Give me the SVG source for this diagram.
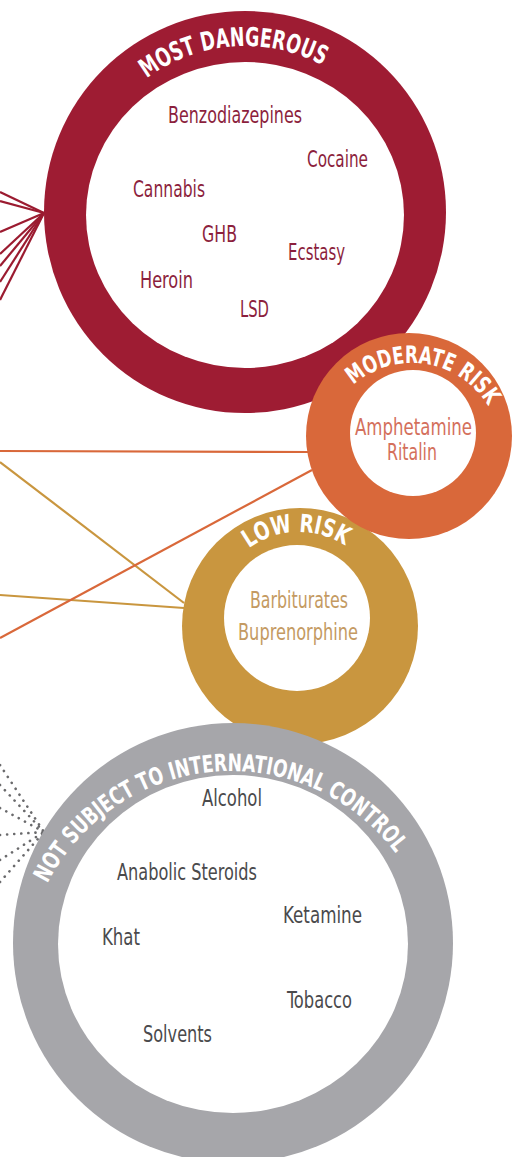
<svg xmlns="http://www.w3.org/2000/svg" xmlns:xlink="http://www.w3.org/1999/xlink" width="513" height="1157" viewBox="0 0 513 1157">
<style>
.t{font-family:"Liberation Sans Narrow","DejaVu Sans Condensed","Liberation Sans",sans-serif;font-size:23px}
.h{font-family:"Liberation Sans Narrow","DejaVu Sans Condensed","Liberation Sans",sans-serif;font-weight:bold;fill:#ffffff}
.red{fill:#8c1f3d}
.org{fill:#d4705c}
.gld{fill:#c49a62}
.gry{fill:#4a4a4c}
.lr{stroke:#9b1b30;stroke-width:2.2;fill:none}
.lo{stroke:#d9683a;stroke-width:2.2;fill:none}
.lg{stroke:#c9963f;stroke-width:2.2;fill:none}
.ld{stroke:#6a6a6c;stroke-width:2.6;fill:none;stroke-dasharray:0.1 7;stroke-linecap:round}
</style>
<defs>
<path id="arcTop" d="M146.6,78.5 A165,165 0 0 1 322.5,65.3"/>
<path id="arcMod" d="M353.5,384.9 A89,89 0 0 1 487.8,405.4"/>
<path id="arcLow" d="M248.9,548.3 A85,85 0 0 1 344.7,545.3"/>
<path id="arcGry" d="M47.5,883.5 A206,206 0 0 1 395.5,853.0"/>
</defs>
<rect width="513" height="1157" fill="#ffffff"/>
<g id="connectors">
<line class="lr" x1="0" y1="192" x2="44" y2="213"/>
<line class="lr" x1="0" y1="201" x2="44" y2="213"/>
<line class="lr" x1="0" y1="232" x2="44" y2="213"/>
<line class="lr" x1="0" y1="254" x2="44" y2="213"/>
<line class="lr" x1="0" y1="266" x2="44" y2="213"/>
<line class="lr" x1="0" y1="282" x2="44" y2="213"/>
<line class="lr" x1="0" y1="300" x2="44" y2="213"/>
<line class="lo" x1="0" y1="451" x2="310" y2="452"/>
<line class="lg" x1="0" y1="462" x2="184" y2="603"/>
<line class="lg" x1="0" y1="595" x2="184" y2="608"/>
<line class="lo" x1="0" y1="638" x2="312" y2="470"/>
<line class="ld" x1="0" y1="765" x2="44" y2="832"/>
<line class="ld" x1="0" y1="785" x2="44" y2="832"/>
<line class="ld" x1="0" y1="808" x2="44" y2="832"/>
<line class="ld" x1="0" y1="835" x2="44" y2="832"/>
<line class="ld" x1="0" y1="860" x2="44" y2="832"/>
<line class="ld" x1="0" y1="882" x2="44" y2="832"/>
</g>
<g id="most-dangerous">
<circle cx="245" cy="212" r="201" fill="#9e1c33"/>
<ellipse cx="245" cy="215" rx="159" ry="153" fill="#ffffff"/>
<text class="h" font-size="26"><textPath xlink:href="#arcTop" href="#arcTop" textLength="186" lengthAdjust="spacingAndGlyphs">MOST DANGEROUS</textPath></text>
<text class="t red" x="168" y="123" textLength="134" lengthAdjust="spacingAndGlyphs">Benzodiazepines</text>
<text class="t red" x="307" y="167" textLength="61" lengthAdjust="spacingAndGlyphs">Cocaine</text>
<text class="t red" x="133" y="197" textLength="72" lengthAdjust="spacingAndGlyphs">Cannabis</text>
<text class="t red" x="202" y="242" textLength="35" lengthAdjust="spacingAndGlyphs">GHB</text>
<text class="t red" x="288" y="260" textLength="57" lengthAdjust="spacingAndGlyphs">Ecstasy</text>
<text class="t red" x="140" y="288" textLength="53" lengthAdjust="spacingAndGlyphs">Heroin</text>
<text class="t red" x="240" y="317" textLength="29" lengthAdjust="spacingAndGlyphs">LSD</text>
</g>
<g id="low-risk">
<circle cx="300" cy="626" r="118" fill="#c9963f"/>
<circle cx="297" cy="618" r="73" fill="#ffffff"/>
<text class="h" font-size="25"><textPath xlink:href="#arcLow" href="#arcLow" textLength="102" lengthAdjust="spacingAndGlyphs">LOW RISK</textPath></text>
<text class="t gld" x="250" y="608" textLength="98" lengthAdjust="spacingAndGlyphs">Barbiturates</text>
<text class="t gld" x="238" y="640" textLength="120" lengthAdjust="spacingAndGlyphs">Buprenorphine</text>
</g>
<g id="moderate-risk">
<circle cx="409" cy="436" r="103" fill="#d9683a"/>
<circle cx="413" cy="433" r="63" fill="#ffffff"/>
<text class="h" font-size="24"><textPath xlink:href="#arcMod" href="#arcMod" textLength="155" lengthAdjust="spacingAndGlyphs">MODERATE RISK</textPath></text>
<text class="t org" x="355" y="435" textLength="117" lengthAdjust="spacingAndGlyphs">Amphetamine</text>
<text class="t org" x="387" y="460" textLength="50" lengthAdjust="spacingAndGlyphs">Ritalin</text>
</g>
<g id="not-controlled">
<circle cx="233" cy="943" r="220" fill="#a6a6aa"/>
<ellipse cx="233" cy="944" rx="175" ry="169" fill="#ffffff"/>
<text class="h" font-size="24"><textPath xlink:href="#arcGry" href="#arcGry" textLength="417" lengthAdjust="spacingAndGlyphs">NOT SUBJECT TO INTERNATIONAL CONTROL</textPath></text>
<text class="t gry" x="202" y="806" textLength="60" lengthAdjust="spacingAndGlyphs">Alcohol</text>
<text class="t gry" x="117" y="880" textLength="140" lengthAdjust="spacingAndGlyphs">Anabolic Steroids</text>
<text class="t gry" x="283" y="923" textLength="79" lengthAdjust="spacingAndGlyphs">Ketamine</text>
<text class="t gry" x="102" y="945" textLength="38" lengthAdjust="spacingAndGlyphs">Khat</text>
<text class="t gry" x="287" y="1008" textLength="65" lengthAdjust="spacingAndGlyphs">Tobacco</text>
<text class="t gry" x="143" y="1042" textLength="69" lengthAdjust="spacingAndGlyphs">Solvents</text>
</g>
</svg>
